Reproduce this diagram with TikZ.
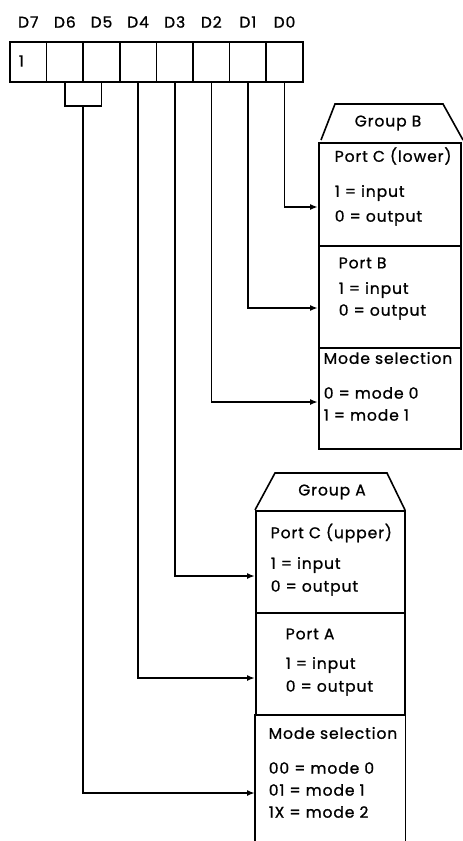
\documentclass[tikz,border=0pt]{standalone}
\usepackage{fontspec}
\setmainfont{Poppins}[LetterSpace=6,FakeBold=1]
\usetikzlibrary{arrows.meta,calc}

\begin{document}
\begin{tikzpicture}[x=1pt,y=-1pt,line width=1.6pt,font=\fontsize{15.5}{18}\selectfont,
 cell/.style={draw,minimum width=36.6pt,minimum height=40pt,inner sep=0pt},
 bitlbl/.style={inner sep=0pt},
 sect/.style={anchor=north west,inner sep=0pt,minimum width=#1},
 txt/.style={anchor=west,inner sep=0pt},
 arr/.style={-{Latex[length=8pt,width=6pt]},line width=1.6pt}]
\useasboundingbox (0,0) rectangle (463,841);
% control word register
\foreach \i [evaluate=\i as \x using {28.3+(7-\i)*36.6}] in {7,...,0}{
  \node[cell] (d\i) at (\x,62) {};
  \node[bitlbl] (l\i) at (\x,22) {D\i};}
\node[txt] (flag) at (18,61) {1};
% group B
\draw (321,140) -- (335,104) -- (443,104) -- (463,140);
\node[bitlbl] (grpb) at (388,123) {Group B};
\node[sect=142pt,minimum height=103pt,draw] (pcl) at (318,142) {};
\node[sect=142pt,minimum height=102pt,draw] (pb) at (318,245) {};
\node[sect=142pt,minimum height=101pt,draw] (msb) at (318,347) {};
\node[txt] (pcl1) at (334,156) {Port C (lower)};
\node[txt] (pcl2) at (334,193) {1 = input};
\node[txt] (pcl3) at (334,218) {0 = output};
\node[txt] (pb1) at (338,263) {Port B};
\node[txt] (pb2) at (338,290) {1 = input};
\node[txt] (pb3) at (338,312) {0 = output};
\node[txt] (msb1) at (323,358) {Mode selection};
\node[txt] (msb2) at (323,393) {0 = mode 0};
\node[txt] (msb3) at (323,415) {1 = mode 1};
% group A
\draw (255,510) -- (275,473) -- (387,473) -- (405,510);
\node[bitlbl] (grpa) at (332,492) {Group A};
\node[sect=149pt,minimum height=102pt,draw] (pcu) at (255,510) {};
\node[sect=149pt,minimum height=102pt,draw] (pa) at (255,612) {};
\node[sect=149pt,minimum height=127pt] (msa) at (255,714) {};
\draw (msa.north west) -- (msa.south west) (msa.north east) -- (msa.south east);
\node[txt] (pcu1) at (270,533) {Port C (upper)};
\node[txt] (pcu2) at (270,565) {1 = input};
\node[txt] (pcu3) at (270,588) {0 = output};
\node[txt] (pa1) at (285,634) {Port A};
\node[txt] (pa2) at (285,665) {1 = input};
\node[txt] (pa3) at (285,688) {0 = output};
\node[txt] (msa1) at (268,733) {Mode selection};
\node[txt] (msa2) at (268,768) {00 = mode 0};
\node[txt] (msa3) at (268,790) {01 = mode 1};
\node[txt] (msa4) at (268,812) {1X = mode 2};
% connections
\coordinate (join) at ($(d6.south)!0.5!(d5.south)+(0,23)$);
\draw (d6.south) |- (join) -| (d5.south);
\draw[arr] (d0.south) |- (pcl.west |- 0,207);
\draw[arr] (d1.south) |- (pb.west |- 0,308);
\draw[arr] (d2.south) |- (msb.west |- 0,402);
\draw[arr] (d3.south) |- (pcu.west |- 0,576);
\draw[arr] (d4.south) |- (pa.west |- 0,678);
\draw[arr] (join) |- (msa.west |- 0,793);
\end{tikzpicture}
\end{document}
